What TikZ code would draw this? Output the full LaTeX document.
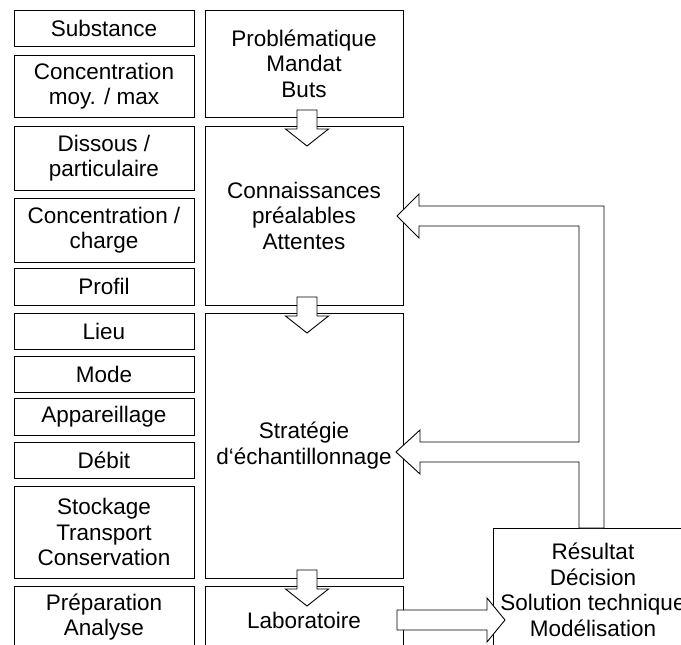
\documentclass[tikz,border=0pt]{standalone}
\usepackage{fontspec}
\setmainfont{Liberation Sans}
\usetikzlibrary{calc}

\begin{document}
\begin{tikzpicture}[
  x=1pt, y=-1pt,
  every node/.style={inner sep=0pt, outer sep=0pt},
  box/.style={draw=black, line width=0.9pt, fill=white, align=center,
              font=\fontsize{22.5}{25.5}\selectfont},
  leftbox/.style={box, minimum width=180pt},
  midbox/.style={box, minimum width=198pt},
  blk/.style={draw=black, line width=0.9pt, fill=white, line join=miter}
]
\useasboundingbox (0,0) rectangle (681,645);
\clip (0,0) rectangle (681,645);

% left column: parameters
\node[leftbox, minimum height=36pt] (sub)   at (104,28)    {Substance};
\node[leftbox, minimum height=62pt] (cmax)  at (104,86)    {Concentration\\moy. / max};
\node[leftbox, minimum height=64pt] (diss)  at (104,158)   {Dissous /\\particulaire};
\node[leftbox, minimum height=64pt] (cch)   at (104,230)   {Concentration /\\charge};
\node[leftbox, minimum height=37pt] (prof)  at (104,286.5) {Profil};
\node[leftbox, minimum height=36pt] (lieu)  at (104,331)   {Lieu};
\node[leftbox, minimum height=36pt] (mode)  at (104,374)   {Mode};
\node[leftbox, minimum height=37pt] (app)   at (104,416.5) {Appareillage};
\node[leftbox, minimum height=36pt] (deb)   at (104,460)   {Débit};
\node[leftbox, minimum height=92pt] (stock) at (104,532)   {Stockage\\Transport\\Conservation};
\node[leftbox, minimum height=62pt] (prep)  at (104,617)   {Préparation\\Analyse};

% middle column: stages
\node[midbox, minimum height=107pt] (prob)  at (304,63.5)  {Problématique\\Mandat\\Buts};
\node[midbox, minimum height=179pt] (conn)  at (304,215.5) {Connaissances\\préalables\\Attentes};
\node[midbox, minimum height=265pt] (strat) at (304,445.5) {Stratégie\\d‘échantillonnage};
\node[midbox, minimum height=68pt]  (lab)   at (304,620)   {Laboratoire};

% result box, running off the right and bottom edges
\node[box, minimum width=200pt, minimum height=124pt] (res) at (593,590)
  {Résultat\\Décision\\Solution technique\\Modélisation};

% block arrows pointing down between stages
\newcommand\blockdown[1]{%
  \draw[blk] (#1) ++(-10,0) -- ++(0,19) -- ++(-11.5,0) -- ++(21.5,17)
    -- ++(21.5,-17) -- ++(-11.5,0) -- ++(0,-19) -- cycle;}
\coordinate (d1) at ($(prob.south)+(3,-7)$);
\coordinate (d2) at ($(conn.south)+(3,-8)$);
\coordinate (d3) at ($(strat.south)+(3,-8)$);
\blockdown{d1}
\blockdown{d2}
\blockdown{d3}

% feedback from the result back to the earlier stages
\coordinate (fa) at ($(conn.east)+(-6,0.5)$);
\coordinate (fb) at ($(strat.east)+(-7,6.5)$);
\coordinate (fr) at ($(res.north)+(-1.5,0)$);
\draw[blk] (fa) -- ++(22,-22) -- ++(0,12) -| ($(fr)+(12.5,0)$)
  -- ($(fr)+(-12.5,0)$) |- ($(fb)+(24,10)$) -- ++(0,12) -- (fb)
  -- ++(24,-22) -- ++(0,12) -| ($(fr)+(-12.5,0)+(0,-302)$)
  -- ($(fa)+(22,10)$) -- ++(0,12) -- cycle;

% result arrow from the laboratory
\coordinate (la) at ($(lab.east)+(-6,0)$);
\draw[blk] (la) ++(0,-10) -- ++(90,0) -- ++(0,-12) -- ++(18,22)
  -- ++(-18,22) -- ++(0,-12) -- ++(-90,0) -- cycle;
\end{tikzpicture}
\end{document}
